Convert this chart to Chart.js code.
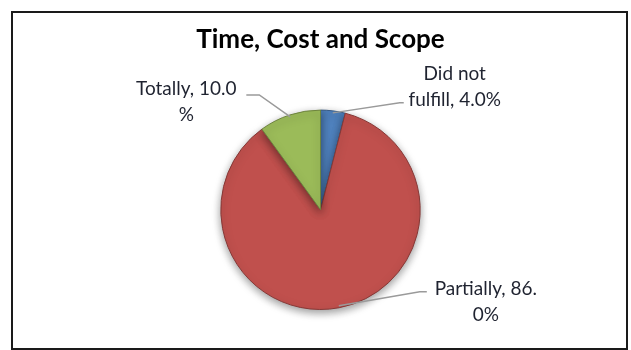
<!DOCTYPE html>
<html lang="en">
<head>
    <meta charset="UTF-8">
    <title>Time, Cost and Scope</title>
    <style>
        body {
            margin: 0;
            background: #fff;
        }
        .box {
            position: relative;
            width: 631px;
            height: 350px;
        }
        .frame {
            position: absolute;
            left: 11px;
            top: 11px;
            width: 617px;
            height: 339px;
            border: 2px solid #1a1a1a;
            box-sizing: border-box;
            pointer-events: none;
        }
    </style>
</head>
<body>

<div class="box">
    <canvas id="pie" width="631" height="350"></canvas>
    <div class="frame"></div>
</div>

<script src="https://cdn.jsdelivr.net/npm/chart.js"></script>
<script>
    // dados do gráfico
    const categories = ['Did not fulfill', 'Partially', 'Totally'];
    const values = [4.0, 86.0, 10.0];
    const labelLines = [
        ['Did not', 'fulfill, 4.0%'],
        ['Partially, 86.', '0%'],
        ['Totally, 10.0', '%']
    ];
    const colors = ['#4F81BD', '#C0504D', '#9BBB59'];

    // posição dos rótulos relativa ao ponto da fatia: [cotovelo x, y, fim da linha x, texto x, y]
    const labelOffsets = [
        [67, -10, 71, 122, -39],
        [81, -14, 88, 147, -17],
        [-31, -22, -44, -104, -28]
    ];

    function shade(hex, amt) {
        const n = parseInt(hex.slice(1), 16);
        let r = n >> 16, g = (n >> 8) & 255, b = n & 255;
        const f = c => Math.round(amt > 0 ? c + (255 - c) * amt : c * (1 + amt));
        return `rgb(${f(r)},${f(g)},${f(b)})`;
    }

    const bevel = {
        id: 'bevel',
        beforeDatasetsDraw(chart) {
            const ctx = chart.ctx;
            ctx.save();
            ctx.shadowColor = 'rgba(0,0,0,0.4)';
            ctx.shadowBlur = 8;
            ctx.shadowOffsetY = 3;
        },
        afterDatasetsDraw(chart) {
            chart.ctx.restore();
        }
    };

    const leaderLabels = {
        id: 'leaderLabels',
        afterDraw(chart) {
            const ctx = chart.ctx;
            const meta = chart.getDatasetMeta(0);
            ctx.save();
            ctx.font = '19px Lato, "Open Sans", sans-serif';
            ctx.textAlign = 'center';
            ctx.textBaseline = 'middle';
            meta.data.forEach((arc, i) => {
                const mid = (arc.startAngle + arc.endAngle) / 2;
                const ax = arc.x + Math.cos(mid) * (arc.outerRadius - 2);
                const ay = arc.y + Math.sin(mid) * (arc.outerRadius - 2);
                const o = labelOffsets[i];
                ctx.strokeStyle = '#9a9a9a';
                ctx.lineWidth = 1.5;
                ctx.beginPath();
                ctx.moveTo(ax, ay);
                ctx.lineTo(ax + o[0], ay + o[1]);
                ctx.lineTo(ax + o[2], ay + o[1]);
                ctx.stroke();
                ctx.fillStyle = '#1f2330';
                labelLines[i].forEach((t, j) => {
                    ctx.fillText(t, ax + o[3], ay + o[4] + j * 26);
                });
            });
            ctx.restore();
        }
    };

    new Chart(document.getElementById('pie'), {
        type: 'pie',
        data: {
            labels: categories,
            datasets: [{
                data: values,
                backgroundColor: c => {
                    const chart = c.chart;
                    const arc = chart.getDatasetMeta(0).data[c.dataIndex];
                    const base = colors[c.dataIndex];
                    if (!arc || !arc.outerRadius) return base;
                    const g = chart.ctx.createRadialGradient(arc.x, arc.y - 20, 0, arc.x, arc.y, arc.outerRadius);
                    g.addColorStop(0, shade(base, 0.12));
                    g.addColorStop(0.8, base);
                    g.addColorStop(0.93, base);
                    g.addColorStop(1, shade(base, -0.15));
                    return g;
                },
                borderColor: colors.map(c => shade(c, -0.3)),
                borderWidth: 1,
                hoverOffset: 0
            }]
        },
        options: {
            responsive: false,
            animation: false,
            events: [],
            layout: {
                padding: { left: 10, right: 0, top: 0, bottom: 40 }
            },
            plugins: {
                legend: { display: false },
                tooltip: { enabled: false },
                title: {
                    display: true,
                    text: 'Time, Cost and Scope',
                    color: '#000',
                    font: { family: 'Lato, "Open Sans", sans-serif', size: 26, weight: 'bold', lineHeight: 1.1 },
                    padding: { top: 25, bottom: 56 }
                }
            }
        },
        plugins: [bevel, leaderLabels]
    });
</script>

</body>
</html>
